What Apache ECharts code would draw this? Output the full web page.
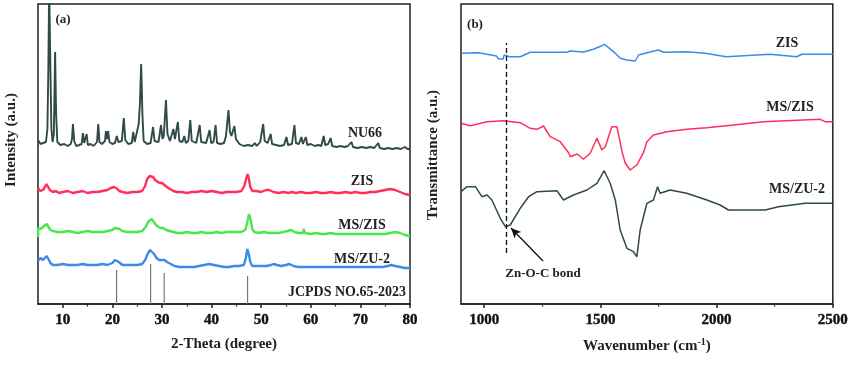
<!DOCTYPE html>
<html><head><meta charset="utf-8">
<script src="https://cdn.jsdelivr.net/npm/echarts@6/dist/echarts.min.js"></script>
<style>html,body{margin:0;padding:0;background:#fff}#c{width:851px;height:365px}</style>
</head><body><div id="c"></div>
<script>
// ---- Panel (a): XRD, 2-Theta (degree) vs intensity (a.u., stacked offsets) ----
const xrdTicks = [10,20,30,40,50,60,70,80];
const xrdMinorTicks = [15,25,35,45,55,65,75];
const nu66 = [[5,164],[5.5,160],[6,161],[6.6,162],[6.9,175],[7.1,240],[7.25,320],[7.45,250],[7.7,175],[7.95,162],[8.2,170],[8.45,252],[8.65,190],[8.9,162],[9.5,159],[10.3,160],[11,158],[11.6,160],[11.85,165],[12.05,180],[12.3,163],[12.7,158],[13.3,159],[13.8,160],[14.05,171],[14.3,161],[14.55,160],[14.8,170],[15.05,159],[15.6,160],[16.2,158],[16.9,162],[17.15,180],[17.4,162],[17.9,160],[18.5,163],[18.7,173],[18.9,165],[19.15,173],[19.4,162],[20.0,160],[20.5,161],[20.9,168],[21.2,162],[21.9,163],[22.3,186],[22.6,164],[23.2,160],[23.9,161],[24.2,172],[24.5,162],[24.9,163],[25.3,180],[25.55,200],[25.8,240],[26.05,190],[26.3,163],[27.0,160],[27.7,161],[28.2,177],[28.5,163],[29.3,162],[29.8,179],[30.1,165],[30.35,168],[30.8,204],[31.1,170],[31.6,163],[32.3,175],[32.6,165],[33.2,182],[33.5,163],[34.1,162],[34.5,168],[34.8,161],[35.3,163],[35.7,184],[36.0,163],[36.9,161],[37.6,179],[37.9,162],[38.9,161],[39.6,174],[39.9,161],[40.4,162],[40.8,179],[41.1,161],[41.8,160],[42.5,161],[42.9,168],[43.4,194],[43.7,172],[44.0,168],[44.6,178],[44.9,165],[45.2,167],[45.6,160],[46.5,158],[47.3,159],[48.2,158],[48.7,161],[49.1,158],[49.8,162],[50.4,180],[50.7,163],[51.3,161],[51.9,170],[52.2,160],[53.0,159],[53.8,158],[54.6,159],[55.1,167],[55.4,159],[56.2,160],[56.7,179],[57.0,161],[57.6,160],[58.1,167],[58.4,160],[59.0,167],[59.3,159],[60.0,160],[60.8,158],[61.5,159],[62.1,158],[62.6,168],[62.9,159],[63.5,160],[64.0,166],[64.3,158],[65.2,157],[66.0,158],[66.8,157],[67.5,158],[68.2,162],[68.5,157],[69.4,156],[70.3,157],[71.2,156],[72.0,157],[72.8,156],[73.6,161],[73.9,156],[74.8,155],[75.6,156],[76.5,155],[77.3,156],[78.1,155],[79.0,157],[79.5,155],[80,155]];
const zisXrd = [[5,116],[5.5,113],[6,114],[6.4,117],[6.7,120],[7.0,118],[7.4,114],[8,112],[8.6,113],[9.2,111],[10,112],[11,113],[12,111],[13,112],[14,113],[15,111],[16,112],[17,112],[18,113],[19,114],[19.7,116],[20.3,117],[20.8,116],[21.4,113],[22,112],[23,111],[24,112],[25,112],[26,113],[26.6,118],[27.0,125],[27.5,128],[27.8,129],[28.2,127],[28.6,124],[29.0,122],[29.5,121],[30.0,121],[30.5,119],[31.0,117],[31.6,115],[32.3,113],[33,112],[34,112],[35,111],[36,112],[37,112],[38,113],[39,112],[40,113],[41,112],[42,111],[43,112],[44,112],[45,112],[46,113],[46.6,118],[47.0,126],[47.25,130],[47.5,126],[47.8,117],[48.2,113],[49,113],[50,112],[51,114],[51.6,114],[52.5,112],[53.5,111],[54.5,112],[55.5,111],[56.2,112],[57,111],[58,112],[59,111],[60,111],[61,112],[62,111],[63,111],[64,112],[65,111],[66,111],[67,112],[68,111],[69,112],[70,111],[71,111],[72,112],[73,112],[74,113],[75,114],[76,115],[77,114],[78,112],[79,110],[80,109]];
const msZisXrd = [[5,67],[5.05,76],[5.5,75],[6,77],[6.4,79],[6.75,80],[7.1,78],[7.5,74],[8,73],[9,72],[10,72],[11,73],[12,72],[13,71],[14,72],[15,73],[16,72],[17,72],[18,72],[19,73],[20,74],[20.5,76],[20.9,77],[21.4,75],[22,73],[23,72],[24,72],[25,72],[26,73],[26.7,77],[27.2,82],[27.6,84],[27.9,85],[28.3,83],[28.8,79],[29.3,77],[29.8,76],[30.3,76],[30.8,74],[31.5,73],[32.3,72],[33,71],[34,71],[35,72],[36,71],[37,71],[38,72],[39,71],[40,71],[41,72],[42,71],[43,72],[44,72],[45,72],[46,72],[46.8,74],[47.2,82],[47.55,90],[47.9,84],[48.2,75],[48.6,72],[49.5,71],[50.5,72],[51.5,71],[52.5,71],[53.5,71],[54.5,72],[55.3,73],[56,74],[56.7,72],[57.5,71],[58.4,71],[58.6,75],[58.8,71],[60,70],[61,71],[62,70],[63,70],[64,71],[65,70],[66,70],[67,70],[68,70],[69,70],[70,70],[71,70],[72,70],[73,70],[74,70],[75,70],[76,71],[77,72],[78,71],[79,69],[80,68]];
const msZu2Xrd = [[5,43],[5.5,46],[6,44],[6.4,46],[6.75,48],[7.1,45],[7.5,41],[8,39],[9,39],[10,40],[11,39],[12,39],[13,39],[14,40],[15,39],[16,39],[17,39],[18,40],[19,39],[20,41],[20.5,44],[20.85,45],[21.3,42],[22,39],[23,39],[24,39],[25,39],[26,40],[26.6,44],[27.1,50],[27.6,54],[28.0,53],[28.4,50],[28.9,46],[29.4,44],[30.0,44],[30.5,44],[31,42],[31.8,40],[32.5,38],[33.5,37],[34.5,37],[35.5,37],[36.5,37],[37.5,38],[38.5,39],[39.5,40],[40.5,39],[41.5,38],[42.5,37],[43.5,37],[44.5,38],[45.5,38],[46.5,39],[46.9,46],[47.2,55],[47.5,50],[47.8,42],[48.2,38],[49,38],[50,38],[51,38],[52,39],[52.5,40],[53.2,39],[54,38],[55,39],[55.7,40],[56.5,38],[57.5,37],[58.5,37],[59.5,37],[60.5,37],[61.5,37],[62.5,37],[63.5,37],[64.5,37],[65.5,37],[66.5,37],[67.5,37],[68.5,37],[69.5,37],[70.5,37],[71.5,37],[72.5,37],[73.5,37],[74.5,37],[75.5,38],[76.2,39],[77,38],[78,37],[79,36],[80,36]];
const jcpdsPos = [20.85, 27.7, 30.45, 47.25];
const jcpdsHeight = [34, 40, 31, 28];

// ---- Panel (b): FTIR, wavenumber (cm-1) vs transmittance (a.u., stacked offsets) ----
const ftirTicks = [1000,1500,2000,2500];
const ftirMinorTicks = [1250,1750,2250];
const zisFtir = [[900,250.7],[976,251.3],[983,249.7],[1052,248],[1062,245],[1081,245],[1086,249],[1109,247.3],[1155,247.3],[1162,249],[1198,251.7],[1356,251.7],[1370,253],[1427,252],[1470,254.7],[1506,258.3],[1518,259.7],[1535,256.3],[1564,250.7],[1585,245.7],[1614,244],[1650,243],[1664,249],[1700,251.3],[1750,254],[1771,251.7],[1871,252.3],[1951,250.7],[2041,247.3],[2230,249.7],[2345,247.3],[2367,249.7],[2500,249.7]];
const msZisFtir = [[900,180.7],[940,178.3],[1012,182.3],[1083,183.3],[1155,181.3],[1198,175.7],[1227,174.7],[1255,178],[1284,167.3],[1327,162.3],[1363,151.3],[1370,147.3],[1400,150],[1427,144.7],[1456,150.7],[1485,165.7],[1506,154],[1521,157.3],[1549,177.3],[1571,177.3],[1593,152.3],[1607,140.7],[1628,134],[1657,139],[1685,151.3],[1700,162.3],[1728,169],[1786,172.3],[1871,174.7],[1958,176.3],[2073,179],[2202,182.3],[2446,184.7],[2467,182.3],[2500,182.3]];
const msZu2Ftir = [[900,112.3],[926,117.3],[962,117.3],[990,107.3],[1012,109],[1033,104],[1069,85.7],[1091,77.3],[1112,79],[1155,95.7],[1191,107.3],[1227,112.3],[1313,113.3],[1341,104],[1384,109],[1442,114],[1485,120.7],[1516,133.3],[1542,120.7],[1564,104],[1585,74],[1614,55.7],[1642,52.3],[1657,47.3],[1671,74],[1700,100.7],[1728,104],[1746,117.3],[1757,110.7],[1800,114],[1871,110.7],[1958,104],[2015,99],[2051,94],[2209,94],[2216,95.7],[2266,97.3],[2381,100.7],[2500,100.7]];
const bondLine = [[1095,51],[1095,261]];
const bondArrow = [[1253,43],[1115,76]];

const SERIF = 'Liberation Serif';
const INK = '#222';
const C_DARK = '#2f4b48', C_RED = '#ff2f5c', C_GREEN = '#46e84a', C_BLUE = '#3d8be8';

function mainX(grid, min, max, ticks, name, nameRich) {
  return {
    type: 'value', gridIndex: grid, min: min, max: max, position: 'bottom',
    name: name, nameLocation: 'middle', nameGap: 33,
    nameTextStyle: Object.assign({fontFamily: SERIF, fontWeight: 'bold', fontSize: 15, color: INK}, nameRich ? {rich: nameRich} : {}),
    axisLine: {show: true, onZero: false, lineStyle: {color: INK, width: 1.5}},
    axisTick: {show: true, inside: false, length: 4, customValues: ticks, lineStyle: {color: INK, width: 1.5}},
    axisLabel: {show: true, margin: 9, customValues: ticks, formatter: v => String(v),
      fontFamily: SERIF, fontWeight: 700, fontSize: 15, color: '#111', textBorderColor: '#111', textBorderWidth: 0.4},
    splitLine: {show: false}
  };
}
function minorX(grid, min, max, ticks) {
  return {
    type: 'value', gridIndex: grid, min: min, max: max, position: 'bottom', offset: 0,
    axisLine: {show: false, onZero: false},
    axisTick: {show: true, inside: false, length: 2.5, customValues: ticks, lineStyle: {color: INK, width: 1.2}},
    axisLabel: {show: false}, splitLine: {show: false}
  };
}
function yAx(grid) {
  return {type: 'value', gridIndex: grid, min: 0, max: 300, show: false};
}
function line(data, color, xi, yi, w) {
  return {type: 'line', data: data, xAxisIndex: xi, yAxisIndex: yi, showSymbol: false, symbol: 'none',
    lineStyle: {color: color, width: w}, itemStyle: {color: color}, clip: true, silent: true};
}
function label(text, x, y, size, extra) {
  return Object.assign({type: 'text', x: x, y: y, silent: true,
    style: {text: text, fill: INK, font: 'bold ' + size + 'px "' + SERIF + '", serif', align: 'center', verticalAlign: 'middle', textAlign: 'center', textVerticalAlign: 'middle'}}, extra || {});
}

const chart = echarts.init(document.getElementById('c'), null, {renderer: 'canvas'});
const zuSeries = line(msZu2Ftir, C_DARK, 2, 1, 1.5);
zuSeries.markLine = {
  silent: true, animation: false, symbolSize: [0, 0], label: {show: false},
  data: [
    [{coord: bondLine[0], symbol: 'none', lineStyle: {type: [5, 3], color: '#111', width: 1.3}}, {coord: bondLine[1], symbol: 'none'}],
    [{coord: bondArrow[0], symbol: 'none', lineStyle: {type: 'solid', color: '#111', width: 1.3}}, {coord: bondArrow[1], symbol: 'arrow', symbolSize: [7, 10]}]
  ]
};
chart.setOption({
  animation: false,
  backgroundColor: '#fff',
  grid: [
    {left: 38, top: 4, width: 372, height: 300, show: true, borderColor: INK, borderWidth: 1.5, backgroundColor: 'transparent', containLabel: false},
    {left: 461, top: 4, width: 372, height: 300, show: true, borderColor: INK, borderWidth: 1.5, backgroundColor: 'transparent', containLabel: false}
  ],
  xAxis: [
    mainX(0, 5, 80, xrdTicks, '2-Theta (degree)'),
    minorX(0, 5, 80, xrdMinorTicks),
    mainX(1, 900, 2500, ftirTicks, 'Wavenumber (cm{sup|-1})', {sup: {fontFamily: SERIF, fontWeight: 'bold', fontSize: 10, color: INK, padding: [0, 0, 9, 0]}}),
    minorX(1, 900, 2500, ftirMinorTicks)
  ],
  yAxis: [yAx(0), yAx(1)],
  series: [
    line(nu66, C_DARK, 0, 0, 1.9),
    line(zisXrd, C_RED, 0, 0, 2.4),
    line(msZisXrd, C_GREEN, 0, 0, 2.4),
    line(msZu2Xrd, C_BLUE, 0, 0, 2.4),
    {type: 'bar', xAxisIndex: 0, yAxisIndex: 0, barWidth: 1.2, silent: true,
      itemStyle: {color: '#777'}, data: jcpdsPos.map((p, i) => [p, jcpdsHeight[i]])},
    line(zisFtir, C_BLUE, 2, 1, 1.5),
    line(msZisFtir, C_RED, 2, 1, 1.5),
    zuSeries
  ],
  graphic: [
    label('(a)', 63, 20, 13),
    label('(b)', 475, 25, 13),
    label('NU66', 365, 133, 14),
    label('ZIS', 362, 181, 14),
    label('MS/ZIS', 362, 225, 14),
    label('MS/ZU-2', 362, 259, 14),
    label('JCPDS NO.65-2023', 347, 292, 14),
    label('ZIS', 787, 43, 14),
    label('MS/ZIS', 790, 107, 14),
    label('MS/ZU-2', 797, 189, 14),
    label('Zn-O-C bond', 543, 274, 13),
    label('Intensity (a.u.)', 11, 140, 15, {rotation: Math.PI / 2}),
    label('Transmittance (a.u.)', 433, 155, 15, {rotation: Math.PI / 2})
  ]
});
</script></body></html>
